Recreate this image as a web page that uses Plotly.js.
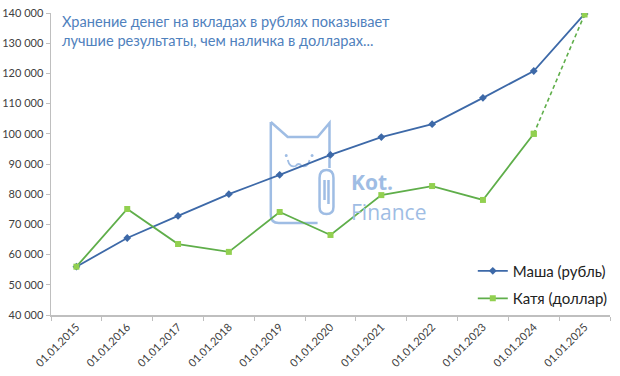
<!DOCTYPE html>
<html>
<head>
<meta charset="utf-8">
<script src="https://cdn.plot.ly/plotly-3.0.1.min.js"></script>
<style>html,body{margin:0;padding:0;background:#fff;}#chart{width:620px;height:376px;}</style>
</head>
<body>
<div id="chart"></div>
<script>
var dates = ["01.01.2015","01.01.2016","01.01.2017","01.01.2018","01.01.2019","01.01.2020","01.01.2021","01.01.2022","01.01.2023","01.01.2024","01.01.2025"];
var masha = [56000, 65500, 72800, 80000, 86400, 93000, 98900, 103200, 111900, 120800, 139700];
var katya = [56000, 75100, 63500, 60900, 74100, 66500, 79700, 82700, 78100, 100000, null];
var katyaDashX = ["01.01.2024","01.01.2025"];
var katyaDashY = [100000, 139500];
var titleText = "Хранение денег на вкладах в рублях показывает<br>лучшие результаты, чем наличка в долларах...";

var W = 620, H = 376, ML = 51, MR = 7, MT = 13, MB = 61;
var PW = W - ML - MR, PH = H - MT - MB;
function px(x){ return (x - ML) / PW; }
function py(y){ return (H - MB - y) / PH; }
function P(x,y){ return px(x).toFixed(4) + "," + py(y).toFixed(4); }

var wm = "#9fbde4";
var catPath = "M" + P(272,122) + " L" + P(289,137) + " L" + P(319,137) + " L" + P(331,123) + " L" + P(331,168) +
  " M" + P(272,122) + " L" + P(272,215) + " Q" + P(272,223) + " " + P(280,223) + " L" + P(319,223);
var clipPath = "M" + P(321,207) + " L" + P(321,178) + " Q" + P(321,170) + " " + P(328,170) + " Q" + P(335,170) + " " + P(335,178) +
  " L" + P(335,207) + " Q" + P(335,214) + " " + P(328,214) + " Q" + P(321,214) + " " + P(321,207) +
  " M" + P(326,200) + " L" + P(326,180) + " M" + P(330,180) + " L" + P(330,204);
var facePath = "M" + P(289,160) + " Q" + P(291,168) + " " + P(297,166) + " Q" + P(300,162) + " " + P(303,166) + " Q" + P(309,168) + " " + P(311,160);

var shapes = [
  {type:"path", xref:"paper", yref:"paper", path:catPath, line:{color:wm, width:2.5}, layer:"below"},
  {type:"path", xref:"paper", yref:"paper", path:clipPath, line:{color:wm, width:2.5}, layer:"below"},
  {type:"path", xref:"paper", yref:"paper", path:facePath, line:{color:wm, width:1.8}, layer:"below"},
  {type:"circle", xref:"paper", yref:"paper", x0:px(286), x1:px(289), y0:py(157), y1:py(154), fillcolor:wm, line:{width:0}, layer:"below"},
  {type:"circle", xref:"paper", yref:"paper", x0:px(312), x1:px(315), y0:py(157), y1:py(154), fillcolor:wm, line:{width:0}, layer:"below"}
];

var annotations = [
  {xref:"paper", yref:"paper", x:px(60), y:py(11), xanchor:"left", yanchor:"top", align:"left", showarrow:false,
   text:titleText, font:{family:"Lato, sans-serif", size:14.6, color:"#4f81bd"}},
  {xref:"paper", yref:"paper", x:px(351), y:py(182), xanchor:"left", yanchor:"middle", showarrow:false,
   text:"<b>Kot.</b>", font:{family:"Open Sans, sans-serif", size:21, color:wm}},
  {xref:"paper", yref:"paper", x:px(351), y:py(212), xanchor:"left", yanchor:"middle", showarrow:false,
   text:"Finance", font:{family:"Open Sans, sans-serif", size:21, color:wm}}
];

var data = [
  {x:dates, y:masha, type:"scatter", mode:"lines+markers", name:"Маша (рубль)", legendgroup:"a",
   line:{color:"#3d69a8", width:1.8}, marker:{symbol:"diamond", size:6, color:"#3d69a8"}},
  {x:dates, y:katya, type:"scatter", mode:"lines+markers", name:"Катя (доллар)", legendgroup:"b",
   line:{color:"#5fae4a", width:1.8}, marker:{symbol:"square", size:6, color:"#92d050"}},
  {x:katyaDashX, y:katyaDashY, type:"scatter", mode:"lines+markers", showlegend:false, legendgroup:"b",
   line:{color:"#5fae4a", width:1.6, dash:"4px,3px"}, marker:{symbol:"square", size:6, color:"#92d050"}}
];

var layout = {
  width:W, height:H, margin:{l:ML, r:MR, t:MT, b:MB},
  paper_bgcolor:"#fff", plot_bgcolor:"#fff",
  separators:", ",
  showlegend:true,
  legend:{x:1.005, xanchor:"right", y:0.2, yanchor:"top", bgcolor:"rgba(0,0,0,0)",
    font:{family:"Lato, sans-serif", size:15, color:"#222"}, tracegroupgap:5},
  xaxis:{type:"category", range:[-0.5,10.5], tickson:"boundaries", ticks:"outside", ticklen:4, tickcolor:"#bfbfbf",
    showgrid:false, zeroline:false, showline:true, linecolor:"#bfbfbf", linewidth:1.5,
    tickangle:-45, tickfont:{family:"Lato, sans-serif", size:11, color:"#404040"}},
  yaxis:{range:[40000,140000], dtick:10000, tickformat:",d", ticks:"outside", ticklen:4, tickcolor:"#bfbfbf",
    showgrid:false, zeroline:false, showline:true, linecolor:"#bfbfbf", linewidth:1.5,
    tickfont:{family:"Lato, sans-serif", size:11, color:"#404040"}},
  shapes:shapes, annotations:annotations
};
Plotly.newPlot("chart", data, layout, {displayModeBar:false, staticPlot:true});
</script>
</body>
</html>
